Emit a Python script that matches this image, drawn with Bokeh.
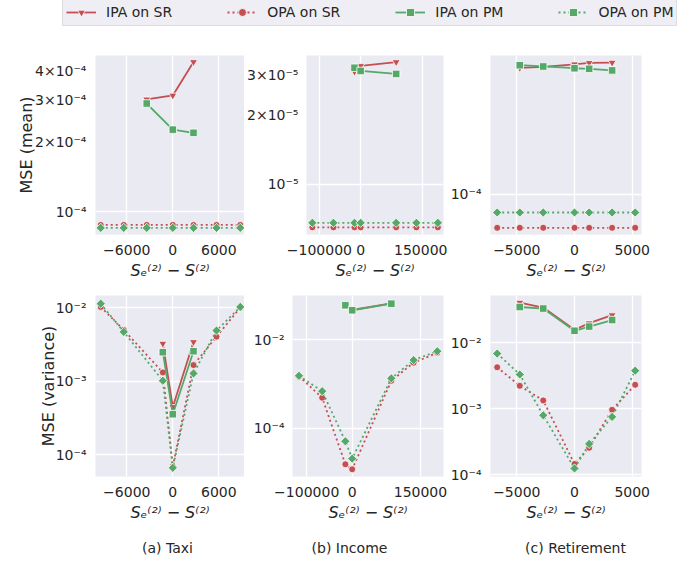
from bokeh.plotting import figure
from bokeh.models import (Range1d, FixedTicker, Legend, LegendItem, Label,
                          ColumnDataSource, CustomJSTickFormatter)
from bokeh.layouts import column, row
from bokeh.embed import file_html
from bokeh.resources import INLINE
import numpy as np

RED = "#C44E52"
GREEN = "#55A868"
BG = "#EAEAF2"
FONT = "DejaVu Sans"
TXT = "#262626"

# ---------------- data ----------------
series_names = ["IPA on SR", "OPA on SR", "IPA on PM", "OPA on PM"]
captions = ["(a) Taxi", "(b) Income", "(c) Retirement"]
xlabel = "S\u2091\u207d\u00b2\u207e \u2212 S\u207d\u00b2\u207e"

# Taxi
taxi_x_mean = [-9400, -6400, -3400, 0, 2700, 5700, 8800]
taxi_x_ipa_mean = [-3400, 0, 2700]
taxi_mean_opa_sr = [8.8e-5, 8.8e-5, 8.8e-5, 8.8e-5, 8.8e-5, 8.8e-5, 8.8e-5]
taxi_mean_opa_pm = [8.55e-5, 8.55e-5, 8.55e-5, 8.55e-5, 8.55e-5, 8.55e-5, 8.55e-5]
taxi_mean_ipa_sr = [3.03e-4, 3.15e-4, 4.38e-4]
taxi_mean_ipa_pm = [2.91e-4, 2.25e-4, 2.18e-4]

taxi_x_var = [-9400, -6400, -1300, 0, 2700, 5700, 8800]
taxi_x_ipa_var = [-1300, 0, 2700]
taxi_var_opa_sr = [1.02e-2, 4.97e-3, 1.31e-3, 6.9e-5, 1.65e-3, 4.02e-3, 1.0e-2]
taxi_var_opa_pm = [1.13e-2, 4.67e-3, 1.01e-3, 6.6e-5, 1.27e-3, 4.87e-3, 1.02e-2]
taxi_var_ipa_sr = [3.23e-3, 4.45e-4, 3.40e-3]
taxi_var_ipa_pm = [2.47e-3, 3.54e-4, 2.55e-3]

# Income
inc_x = [-117000, -66000, -15000, 0, 86000, 135000, 187000]
inc_x_ipa = [-15000, 0, 86000]
inc_mean_opa_sr = [6.5e-6, 6.5e-6, 6.5e-6, 6.5e-6, 6.5e-6, 6.5e-6, 6.5e-6]
inc_mean_opa_pm = [6.8e-6, 6.8e-6, 6.8e-6, 6.8e-6, 6.8e-6, 6.8e-6, 6.8e-6]
inc_mean_ipa_sr = [3.09e-5, 3.27e-5, 3.40e-5]
inc_mean_ipa_pm = [3.21e-5, 3.11e-5, 3.02e-5]

inc_var_opa_sr = [1.5e-3, 4.89e-4, 1.53e-5, 1.18e-5, 1.18e-3, 3.03e-3, 5.06e-3]
inc_var_opa_pm = [1.53e-3, 6.87e-4, 5.06e-5, 2.05e-5, 1.34e-3, 3.47e-3, 5.5e-3]
inc_var_ipa_sr = [6.1e-2, 4.7e-2, 6.65e-2]
inc_var_ipa_pm = [6.0e-2, 4.64e-2, 6.53e-2]

# Retirement
ret_x = [-6700, -4740, -2710, 0, 1270, 3260, 5260]
ret_x_ipa = [-4740, -2710, 0, 1270, 3260]
ret_mean_opa_sr = [6.2e-5, 6.2e-5, 6.2e-5, 6.2e-5, 6.2e-5, 6.2e-5, 6.2e-5]
ret_mean_opa_pm = [7.7e-5, 7.7e-5, 7.7e-5, 7.7e-5, 7.7e-5, 7.7e-5, 7.7e-5]
ret_mean_ipa_sr = [5.96e-4, 6.04e-4, 6.27e-4, 6.39e-4, 6.42e-4]
ret_mean_ipa_pm = [6.19e-4, 6.08e-4, 5.93e-4, 5.88e-4, 5.75e-4]

ret_var_opa_sr = [4.26e-3, 2.23e-3, 1.34e-3, 1.46e-4, 2.57e-4, 9.66e-4, 2.31e-3]
ret_var_opa_pm = [6.87e-3, 3.31e-3, 7.98e-4, 1.25e-4, 2.94e-4, 7.55e-4, 3.78e-3]
ret_var_ipa_sr = [4.05e-2, 3.41e-2, 1.57e-2, 1.98e-2, 2.62e-2]
ret_var_ipa_pm = [3.48e-2, 3.3e-2, 1.52e-2, 1.76e-2, 2.21e-2]

# axis settings
taxi_xticks = [-6000, 0, 6000]
inc_xticks = [-100000, 0, 150000]
ret_xticks = [-5000, 0, 5000]

# ---------------- styles ----------------
STYLE = {
    "IPA on SR": dict(color=RED, dash="solid", marker="inverted_triangle", size=8, angle=0.0),
    "OPA on SR": dict(color=RED, dash="2 3", marker="circle", size=7, angle=0.0),
    "IPA on PM": dict(color=GREEN, dash="solid", marker="square", size=7.5, angle=0.0),
    "OPA on PM": dict(color=GREEN, dash="2 3", marker="square", size=6.5, angle=np.pi / 4),
}

Y_FMT = CustomJSTickFormatter(code="""
const e = Math.floor(Math.log10(tick) + 1e-9);
const m = Math.round(tick / Math.pow(10, e));
const sup = {"-": "\u207b", "0": "\u2070", "1": "\u00b9", "2": "\u00b2", "3": "\u00b3",
             "4": "\u2074", "5": "\u2075", "6": "\u2076", "7": "\u2077", "8": "\u2078", "9": "\u2079"};
const s = String(e).split("").map(c => sup[c]).join("");
return (m === 1 ? "" : m + "\u00d7") + "10" + s;
""")

X_FMT_CODE = """
return tick < 0 ? "\u2212" + String(Math.abs(tick)) : String(tick);
"""


def add_series(p, name, x, y):
    st = STYLE[name]
    src = ColumnDataSource(dict(x=x, y=y))
    r1 = p.line("x", "y", source=src, line_color=st["color"], line_width=1.8,
                line_dash=st["dash"])
    r2 = p.scatter("x", "y", source=src, marker=st["marker"], size=st["size"],
                   angle=st["angle"], fill_color=st["color"], line_color="white",
                   line_width=0.8)
    return [r1, r2]


def make_panel(width, height, borders, xr, yr, xticks, yticks, ygrid,
               ylabel=None, ylabel_standoff=8, ylab_standoff=3):
    bl, br, bt, bb = borders
    p = figure(width=width, height=height, x_range=Range1d(*xr), y_range=Range1d(*yr),
               y_axis_type="log", output_backend="svg", toolbar_location=None,
               min_border_left=bl, min_border_right=br, min_border_top=bt,
               min_border_bottom=bb, background_fill_color=BG,
               border_fill_color="white", outline_line_color=None)
    p.xaxis.ticker = FixedTicker(ticks=xticks)
    p.xaxis.formatter = CustomJSTickFormatter(code=X_FMT_CODE)
    p.yaxis.ticker = FixedTicker(ticks=yticks)
    p.yaxis.formatter = Y_FMT
    p.xgrid.ticker = FixedTicker(ticks=xticks)
    p.ygrid.ticker = FixedTicker(ticks=ygrid)
    p.grid.grid_line_color = "white"
    p.grid.grid_line_width = 1.3
    p.axis.axis_line_color = None
    p.axis.major_tick_line_color = None
    p.axis.minor_tick_line_color = None
    p.axis.major_label_text_font = FONT
    p.axis.major_label_text_font_size = "14px"
    p.axis.major_label_text_color = TXT
    p.xaxis.major_label_standoff = 4
    p.yaxis.major_label_standoff = ylab_standoff
    p.xaxis.axis_label = xlabel
    p.xaxis.axis_label_text_font = FONT
    p.xaxis.axis_label_text_font_size = "16px"
    p.xaxis.axis_label_text_font_style = "italic"
    p.xaxis.axis_label_text_color = TXT
    p.xaxis.axis_label_standoff = 3
    if ylabel:
        p.yaxis.axis_label = ylabel
        p.yaxis.axis_label_text_font = FONT
        p.yaxis.axis_label_text_font_size = "16px"
        p.yaxis.axis_label_text_font_style = "normal"
        p.yaxis.axis_label_text_color = TXT
        p.yaxis.axis_label_standoff = ylabel_standoff
    return p


TOP_H, BOT_H = 244, 242
W1, W2, W3 = 244, 203, 242
B1_TOP = (95, 0, 17, 44)
B2_TOP = (48, 4, 17, 44)
B3_TOP = (43, 48, 17, 44)
B1_BOT = (95, 0, 13, 44)
B2_BOT = (48, 4, 13, 44)
B3_BOT = (43, 48, 13, 44)

XR_TAXI = (-10083, 9352)
XR_INC = (-131200, 200660)
XR_RET = (-7280, 5806)

# top row (mean)
p1 = make_panel(W1, TOP_H, B1_TOP, XR_TAXI, (8.01e-5, 4.67e-4), taxi_xticks,
                [1e-4, 2e-4, 3e-4, 4e-4], [1e-4], ylabel="MSE (mean)", ylabel_standoff=-4)
add_series(p1, "IPA on SR", taxi_x_ipa_mean, taxi_mean_ipa_sr)
add_series(p1, "OPA on SR", taxi_x_mean, taxi_mean_opa_sr)
add_series(p1, "IPA on PM", taxi_x_ipa_mean, taxi_mean_ipa_pm)
add_series(p1, "OPA on PM", taxi_x_mean, taxi_mean_opa_pm)

p2 = make_panel(W2, TOP_H, B2_TOP, XR_INC, (6.05e-6, 3.63e-5), inc_xticks,
                [1e-5, 2e-5, 3e-5], [1e-5], ylab_standoff=2)
add_series(p2, "IPA on SR", inc_x_ipa, inc_mean_ipa_sr)
add_series(p2, "OPA on SR", inc_x, inc_mean_opa_sr)
add_series(p2, "IPA on PM", inc_x_ipa, inc_mean_ipa_pm)
add_series(p2, "OPA on PM", inc_x, inc_mean_opa_pm)

p3 = make_panel(W3, TOP_H, B3_TOP, XR_RET, (5.64e-5, 7.1e-4), ret_xticks,
                [1e-4], [1e-4])
add_series(p3, "IPA on SR", ret_x_ipa, ret_mean_ipa_sr)
add_series(p3, "OPA on SR", ret_x, ret_mean_opa_sr)
add_series(p3, "IPA on PM", ret_x_ipa, ret_mean_ipa_pm)
add_series(p3, "OPA on PM", ret_x, ret_mean_opa_pm)

# bottom row (variance)
p4 = make_panel(W1, BOT_H, B1_BOT, XR_TAXI, (5.03e-5, 1.46e-2), taxi_xticks,
                [1e-4, 1e-3, 1e-2], [1e-4, 1e-3, 1e-2], ylabel="MSE (variance)",
                ylabel_standoff=-5)
add_series(p4, "IPA on SR", taxi_x_ipa_var, taxi_var_ipa_sr)
add_series(p4, "OPA on SR", taxi_x_var, taxi_var_opa_sr)
add_series(p4, "IPA on PM", taxi_x_ipa_var, taxi_var_ipa_pm)
add_series(p4, "OPA on PM", taxi_x_var, taxi_var_opa_pm)

p5 = make_panel(W2, BOT_H, B2_BOT, XR_INC, (8.1e-6, 1.0e-1), inc_xticks,
                [1e-4, 1e-2], [1e-4, 1e-2], ylab_standoff=2)
add_series(p5, "IPA on SR", inc_x_ipa, inc_var_ipa_sr)
add_series(p5, "OPA on SR", inc_x, inc_var_opa_sr)
add_series(p5, "IPA on PM", inc_x_ipa, inc_var_ipa_pm)
add_series(p5, "OPA on PM", inc_x, inc_var_opa_pm)

p6 = make_panel(W3, BOT_H, B3_BOT, XR_RET, (9.44e-5, 5.2e-2), ret_xticks,
                [1e-4, 1e-3, 1e-2], [1e-4, 1e-3, 1e-2])
add_series(p6, "IPA on SR", ret_x_ipa, ret_var_ipa_sr)
add_series(p6, "OPA on SR", ret_x, ret_var_opa_sr)
add_series(p6, "IPA on PM", ret_x_ipa, ret_var_ipa_pm)
add_series(p6, "OPA on PM", ret_x, ret_var_opa_pm)

# legend figure: the Taxi mean series drawn outside the visible range, used as legend handles
lf = figure(width=689, height=38, x_range=Range1d(1e6, 1e6 + 1), y_range=Range1d(0, 1),
            toolbar_location=None, output_backend="svg", min_border=0,
            outline_line_color=None, x_axis_location=None, y_axis_location=None)
lf.xgrid.visible = False
lf.ygrid.visible = False
legend_sources = {
    "IPA on SR": (taxi_x_ipa_mean, taxi_mean_ipa_sr),
    "OPA on SR": (taxi_x_mean, taxi_mean_opa_sr),
    "IPA on PM": (taxi_x_ipa_mean, taxi_mean_ipa_pm),
    "OPA on PM": (taxi_x_mean, taxi_mean_opa_pm),
}
items = []
for name in series_names:
    xs, ys = legend_sources[name]
    rs = add_series(lf, name, xs, ys)
    items.append(LegendItem(label=name, renderers=rs))
leg = Legend(items=items, orientation="horizontal", location=(62, 12), margin=0,
             padding=3, spacing=55, glyph_width=30, glyph_height=20, label_standoff=10,
             label_text_font=FONT, label_text_font_size="14px", label_text_color=TXT,
             border_line_color="#CCCCCC", border_line_width=1,
             background_fill_color="#EEEEF4", background_fill_alpha=1.0)
lf.add_layout(leg)

# captions figure
cf = figure(width=689, height=38, x_range=Range1d(0, 689), y_range=Range1d(0, 38),
            toolbar_location=None, output_backend="svg", min_border=0,
            outline_line_color=None, x_axis_location=None, y_axis_location=None)
cf.xgrid.visible = False
cf.ygrid.visible = False
caption_x = [167, 349, 575]
for cx, txt in zip(caption_x, captions):
    cf.add_layout(Label(x=cx, y=15, text=txt, text_align="center", text_baseline="middle",
                        text_font=FONT, text_font_size="14px", text_color=TXT))

layout = column(lf, row(p1, p2, p3), row(p4, p5, p6), cf)

with open("out.html", "w") as f:
    f.write(file_html(layout, INLINE))
